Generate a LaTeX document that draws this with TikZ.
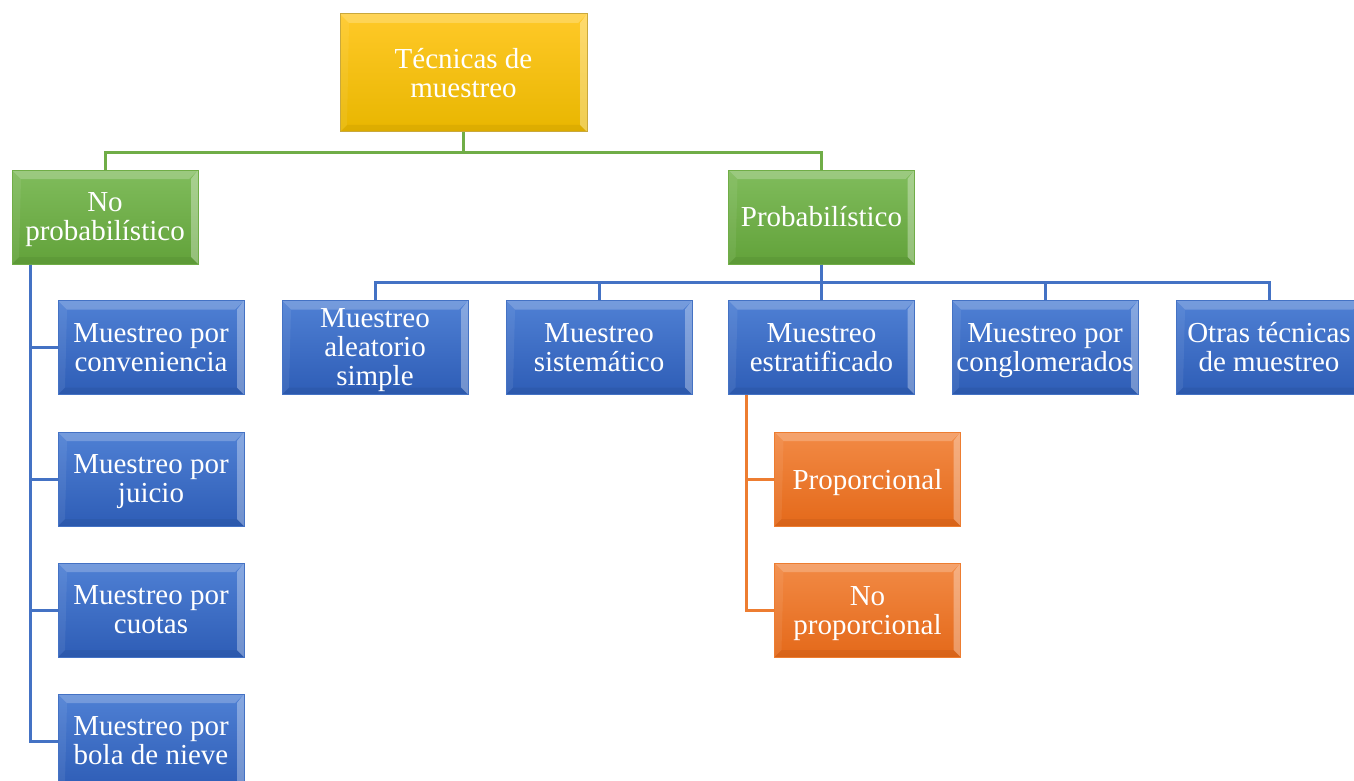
\documentclass[tikz,border=0pt]{standalone}
\usepackage{fontspec}
\setmainfont{Liberation Serif}
\newcommand\nodep[1]{\raisebox{0pt}[\height][0pt]{#1}}
\definecolor{blueT}{HTML}{4F80D4}
\definecolor{blueD}{HTML}{2E5DB6}
\definecolor{blueL}{HTML}{4472C4}
\definecolor{greenT}{HTML}{80BC5C}
\definecolor{greenD}{HTML}{62A23A}
\definecolor{greenL}{HTML}{70AD47}
\definecolor{goldT}{HTML}{FFC928}
\definecolor{goldD}{HTML}{E8B600}
\definecolor{goldL}{HTML}{C9A83C}
\definecolor{orT}{HTML}{F28A45}
\definecolor{orD}{HTML}{E4691A}
\definecolor{orL}{HTML}{ED7D31}
\tikzset{
  box/.style={rectangle, minimum width=186pt, minimum height=94pt, inner sep=0pt,
    align=center, text=white, font=\fontsize{29}{29}\selectfont, line width=1pt,
    path picture={
      \fill[white,opacity=.22] (path picture bounding box.north west) -- (path picture bounding box.north east)
        -- ([shift={(-9pt,-9pt)}]path picture bounding box.north east) -- ([shift={(9pt,-9pt)}]path picture bounding box.north west) -- cycle;
      \fill[white,opacity=.32] (path picture bounding box.north east) -- (path picture bounding box.south east)
        -- ([shift={(-7pt,7pt)}]path picture bounding box.south east) -- ([shift={(-7pt,-9pt)}]path picture bounding box.north east) -- cycle;
      \fill[white,opacity=.07] (path picture bounding box.north west) -- (path picture bounding box.south west)
        -- ([shift={(7pt,7pt)}]path picture bounding box.south west) -- ([shift={(9pt,-9pt)}]path picture bounding box.north west) -- cycle;
      \fill[black,opacity=.05] (path picture bounding box.south west) -- (path picture bounding box.south east)
        -- ([shift={(-7pt,7pt)}]path picture bounding box.south east) -- ([shift={(7pt,7pt)}]path picture bounding box.south west) -- cycle;
    }},
  bluebox/.style={box, draw=blueL, top color=blueT, bottom color=blueD},
  greenbox/.style={box, draw=greenL, top color=greenT, bottom color=greenD},
  goldbox/.style={box, draw=goldL, top color=goldT, bottom color=goldD, minimum width=247pt, minimum height=118pt},
  orbox/.style={box, draw=orL, top color=orT, bottom color=orD},
  gline/.style={draw=greenL, line width=3pt},
  bline/.style={draw=blueL, line width=3pt},
  oline/.style={draw=orL, line width=3pt},
}
\begin{document}
\begin{tikzpicture}[x=1pt,y=-1pt]
\useasboundingbox (0,0) rectangle (1354,781);
\clip (0,0) rectangle (1354,781);
% nodes
\node[goldbox] (top) at (463.5,73) {Técnicas de\\muestreo};
\node[greenbox] (noprob) at (105,217) {No\\\nodep{probabilístico}};
\node[greenbox] (prob) at (821.5,217) {Probabilístico};
% probabilistic children
\node[bluebox] (mas) at (375,347.5) {Muestreo\\aleatorio\\\nodep{simple}};
\node[bluebox] (sis) at (599,347.5) {Muestreo\\sistemático};
\node[bluebox] (est) at (821.5,347.5) {Muestreo\\estratificado};
\node[bluebox] (con) at (1045,347.5) {Muestreo por\\\nodep{conglomerados}};
\node[bluebox] (otr) at (1269,347.5) {Otras técnicas\\de muestreo};
% non-probabilistic children
\node[bluebox] (c1) at (151,347.5) {Muestreo por\\conveniencia};
\node[bluebox] (c2) at (151,479) {Muestreo por\\\nodep{juicio}};
\node[bluebox] (c3) at (151,610) {Muestreo por\\cuotas};
\node[bluebox] (c4) at (151,741) {Muestreo por\\bola de nieve};
% stratified children
\node[orbox] (prop) at (867.5,479) {\nodep{Proporcional}};
\node[orbox] (nprop) at (867.5,610) {No\\\nodep{proporcional}};
% connectors
\draw[gline] (top.south) -- ++(0,20) -| (noprob.north);
\draw[gline] (top.south) -- ++(0,20) -| (prob.north);
\foreach \n in {mas,sis,est,con,otr}
  \draw[bline] (prob.south) -- ++(0,18) -| (\n.north);
\foreach \n in {c1,c2,c3,c4}
  \draw[bline] ([xshift=19pt]noprob.south west) |- (\n.west);
\foreach \n in {prop,nprop}
  \draw[oline] ([xshift=18pt]est.south west) |- (\n.west);
\end{tikzpicture}
\end{document}
